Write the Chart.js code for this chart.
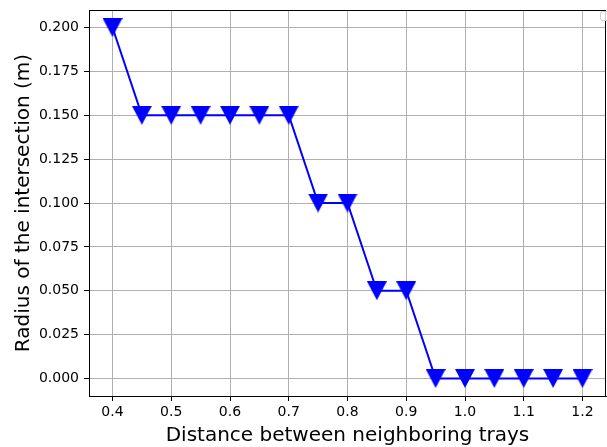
<!DOCTYPE html>
<html>
<head>
<meta charset="utf-8">
<script src="https://cdn.jsdelivr.net/npm/chart.js@4/dist/chart.umd.min.js"></script>
<style>
  html, body { margin: 0; padding: 0; background: #ffffff; }
  #wrap { width: 607px; height: 447px; }
</style>
</head>
<body>
<div id="wrap"><canvas id="chart" width="607" height="447"></canvas></div>
<script>
// Distance between neighbouring trays and the resulting intersection radius
const distances = [0.40, 0.45, 0.50, 0.55, 0.60, 0.65, 0.70, 0.75, 0.80, 0.85, 0.90, 0.95, 1.00, 1.05, 1.10, 1.15, 1.20];
const radii     = [0.200, 0.150, 0.150, 0.150, 0.150, 0.150, 0.150, 0.100, 0.100, 0.050, 0.050, 0.000, 0.000, 0.000, 0.000, 0.000, 0.000];

const xTicks = [0.4, 0.5, 0.6, 0.7, 0.8, 0.9, 1.0, 1.1, 1.2];
const yTicks = [0.000, 0.025, 0.050, 0.075, 0.100, 0.125, 0.150, 0.175, 0.200];

const xLabel = 'Distance between neighboring trays';
const yLabel = 'Radius of the intersection (m)';

const FONT = '"DejaVu Sans", sans-serif';
const BLUE = '#0000ff';

// Downward-pointing triangle marker
function makeTriangle(w, h, color) {
  const c = document.createElement('canvas');
  c.width = w; c.height = h;
  const g = c.getContext('2d');
  g.fillStyle = color;
  g.beginPath();
  g.moveTo(0, 0);
  g.lineTo(w, 0);
  g.lineTo(w / 2, h);
  g.closePath();
  g.fill();
  return c;
}
const marker = makeTriangle(20, 19, BLUE);

// Frame, axis titles and the empty legend box
const decorations = {
  id: 'decorations',
  afterDraw(chart) {
    const { ctx, chartArea: a } = chart;
    ctx.save();
    ctx.strokeStyle = '#000000';
    ctx.lineWidth = 1;
    ctx.strokeRect(Math.round(a.left) + 0.5, Math.round(a.top) + 0.5,
                   Math.round(a.right - a.left) - 1, Math.round(a.bottom - a.top));

    // empty legend frame in the upper-right corner
    ctx.fillStyle = 'rgba(255,255,255,0.8)';
    ctx.strokeStyle = '#cccccc';
    ctx.beginPath();
    ctx.roundRect(600.5, 11.5, 14, 9, 2);
    ctx.fill();
    ctx.stroke();

    ctx.fillStyle = '#000000';
    ctx.font = '20px ' + FONT;
    ctx.textAlign = 'center';
    ctx.textBaseline = 'alphabetic';
    ctx.fillText(xLabel, (a.left + a.right) / 2, 441);

    ctx.translate(29, (a.top + a.bottom) / 2);
    ctx.rotate(-Math.PI / 2);
    ctx.fillText(yLabel, 0, 0);
    ctx.restore();
  }
};

new Chart(document.getElementById('chart'), {
  type: 'scatter',
  data: {
    datasets: [{
      data: distances.map((d, i) => ({ x: d, y: radii[i] })),
      showLine: true,
      borderColor: BLUE,
      borderWidth: 2,
      backgroundColor: BLUE,
      pointStyle: marker,
      pointRadius: 10,
      pointHoverRadius: 10,
      tension: 0,
      clip: false
    }]
  },
  options: {
    responsive: false,
    animation: false,
    devicePixelRatio: 1,
    layout: { autoPadding: false, padding: { top: 10, right: 1, left: 0, bottom: 0 } },
    plugins: { legend: { display: false }, tooltip: { enabled: false } },
    scales: {
      x: {
        type: 'linear',
        min: 0.36,
        max: 1.24,
        afterBuildTicks: s => { s.ticks = xTicks.map(v => ({ value: v })); },
        afterFit: s => { s.height = 51; s.paddingLeft = 0; s.paddingRight = 0; },
        ticks: {
          color: '#000000',
          font: { family: FONT, size: 14 },
          padding: 3,
          maxRotation: 0,
          autoSkip: false,
          callback: v => Number(v).toFixed(1)
        },
        grid: { color: '#b0b0b0', lineWidth: 1, tickColor: '#000000', tickLength: 5, drawOnChartArea: true },
        border: { color: '#000000', width: 1 }
      },
      y: {
        type: 'linear',
        min: -0.01,
        max: 0.21,
        afterBuildTicks: s => { s.ticks = yTicks.map(v => ({ value: v })); },
        afterFit: s => { s.width = 89; s.paddingTop = 0; s.paddingBottom = 0; },
        ticks: {
          color: '#000000',
          font: { family: FONT, size: 14 },
          padding: 5,
          autoSkip: false,
          callback: v => Number(v).toFixed(3)
        },
        grid: { color: '#b0b0b0', lineWidth: 1, tickColor: '#000000', tickLength: 5 },
        border: { color: '#000000', width: 1 }
      }
    }
  },
  plugins: [decorations]
});
</script>
</body>
</html>
